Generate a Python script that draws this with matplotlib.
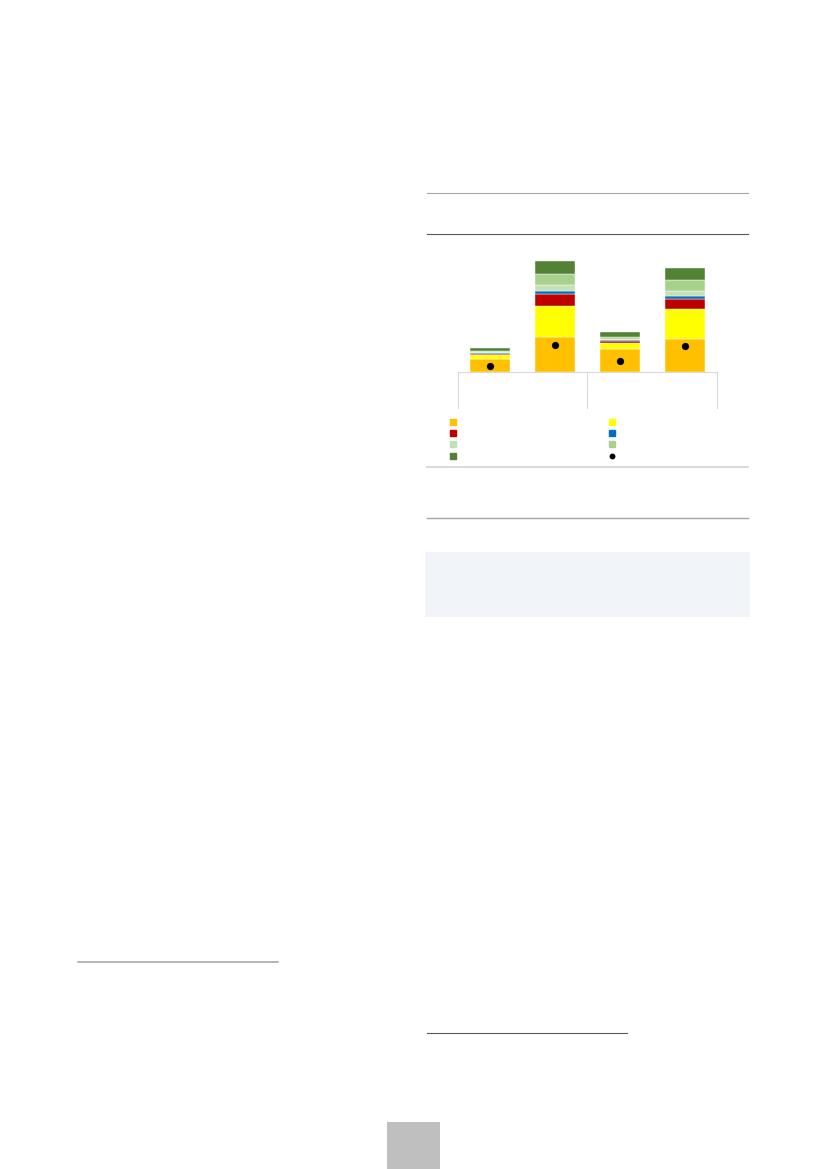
import matplotlib
matplotlib.use('Agg')
from matplotlib import pyplot as plt
import numpy as np

# stacked bar data (arbitrary units), four bars in two groups
bar_pos = [0, 1, 2, 3]
orange = [1.33, 3.56, 2.33, 3.36]
yellow = [0.40, 3.10, 0.63, 2.94]
red = [0.13, 1.17, 0.20, 1.00]
blue = [0.03, 0.27, 0.07, 0.33]
light_green = [0.10, 0.60, 0.13, 0.47]
green = [0.12, 1.17, 0.17, 1.17]
dark_green = [0.29, 1.26, 0.50, 1.20]
dots = [0.66, 2.73, 1.16, 2.60]

series = [orange, yellow, red, blue, light_green, green, dark_green]
colors = ['#FFC000', '#FFFF00', '#C00000', '#0070C0', '#C5E0B4', '#A9D18E', '#548235']

W, H = 827, 1169
fig = plt.figure(figsize=(W / 100, H / 100), dpi=100)

# page decorations drawn in pixel space
page = fig.add_axes([0, 0, 1, 1])
page.set_xlim(0, W)
page.set_ylim(H, 0)
page.axis('off')
page.plot([427, 748], [193.3, 193.3], color='#a6a6a6', lw=0.8)
page.plot([427, 748], [234, 234], color='#595959', lw=0.8)
page.plot([427, 748], [467.3, 467.3], color='#d9d9d9', lw=1.4)
page.plot([427, 748], [518.3, 518.3], color='#a6a6a6', lw=1.0)
page.add_patch(plt.Rectangle((425, 552.3), 325, 64.4, color='#f1f5f9', lw=0))
page.plot([78, 278], [961.7, 961.7], color='#a0a0a0', lw=1.1)
page.plot([427, 627], [1033.3, 1033.3], color='#595959', lw=0.8)
page.add_patch(plt.Rectangle((387.3, 1121.7), 52.7, 48, color='#bfbfbf', lw=0))

# legend markers (no text in the reference)
leg_x = [453.3, 611.7]
leg_y = [422.3, 433.3, 444.3, 455.7]
leg_cols = [['#FFC000', '#C00000', '#C5E0B4', '#548235'],
            ['#FFFF00', '#0070C0', '#A9D18E', None]]
for ci, x in enumerate(leg_x):
    for ri, y in enumerate(leg_y):
        c = leg_cols[ci][ri]
        if c is None:
            page.plot(x, y, 'o', color='black', ms=3.2)
        else:
            page.plot(x, y, 's', color=c, ms=4)

# chart
left, right, base, top = 457.7, 717.3, 372.3, 250.0
ax = fig.add_axes([left / W, 1 - base / H, (right - left) / W, (base - top) / H])
ax.set_xlim(-0.5, 3.5)
ax.set_ylim(0, (base - top) / 10)

bottom = np.zeros(len(bar_pos))
for vals, c in zip(series, colors):
    ax.bar(bar_pos, vals, bottom=bottom, width=0.62, color=c,
           edgecolor='white', linewidth=0.3)
    bottom += np.array(vals)

ax.plot(bar_pos, dots, 'o', color='black', ms=4.2, zorder=5)

for s in ['top', 'left', 'right']:
    ax.spines[s].set_visible(False)
ax.spines['bottom'].set_color('#d9d9d9')
ax.spines['bottom'].set_linewidth(0.8)
ax.set_xticks([])
ax.set_yticks([])

# group separators of the category axis
sep_len = (408 - base) / 10
for xs in [-0.5, 1.5, 3.5]:
    ax.plot([xs, xs], [0, -sep_len], color='#d9d9d9', lw=0.8, clip_on=False)

fig.savefig('out.png', dpi=100)
